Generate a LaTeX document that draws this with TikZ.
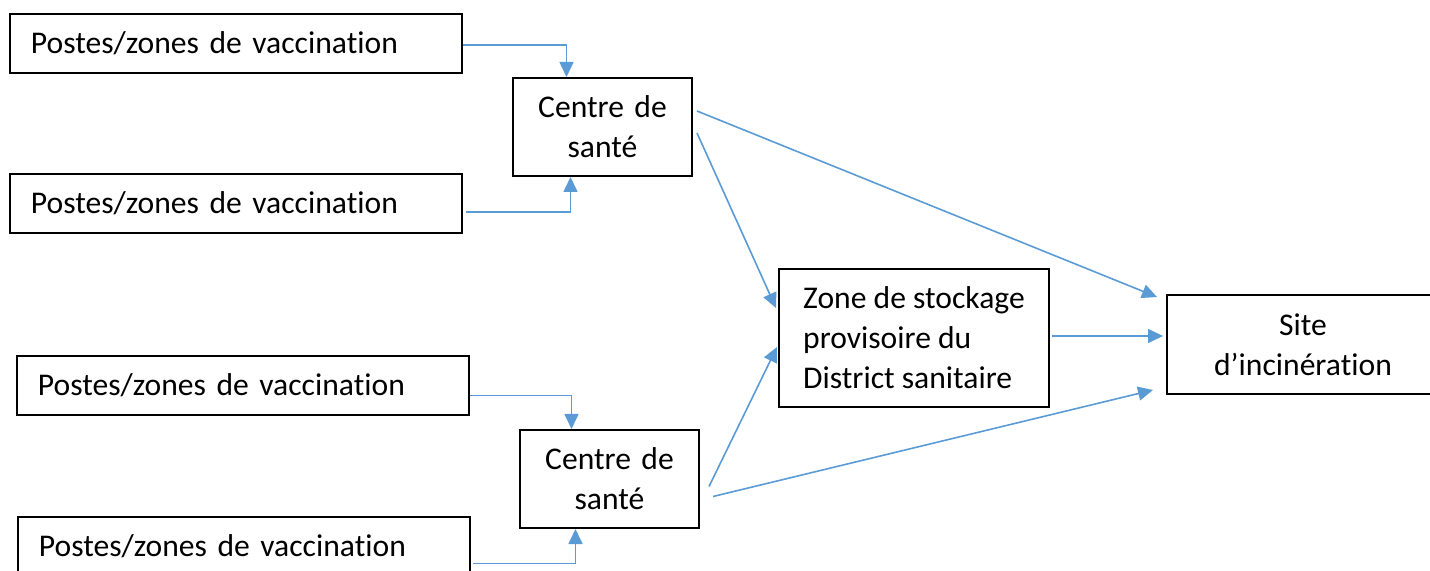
\documentclass[tikz,border=0pt]{standalone}
\usepackage{fontspec}
\setmainfont{Carlito}[Ligatures = NoCommon]
\usetikzlibrary{arrows.meta}
\definecolor{linkblue}{RGB}{91,155,213}

\begin{document}
\begin{tikzpicture}[x = 0.5pt, y = -0.5pt,
    every node/.style = {draw, line width = 1pt, anchor = north west, inner ysep = 0pt,
        font = \fontsize{15.8}{20}\selectfont},
    poste/.style = {inner xsep = 10.5pt, text width = 205pt, minimum height = 29.5pt, align = left},
    centre/.style = {inner xsep = 4pt, text width = 81.5pt, minimum height = 49pt, align = center},
    link/.style = {draw = linkblue, line width = 0.8pt, -{Triangle[length = 7.5pt, width = 7pt]}}]
    \useasboundingbox (0,0) rectangle (1430,571);
    \clip (0,0) rectangle (1430,571);
        % postes de vaccination
        \node[poste] (poste1) at (9,13) {Postes/zones de vaccination};
        \node[poste] (poste2) at (9,173) {Postes/zones de vaccination};
        \node[poste] (poste3) at (16,355) {Postes/zones de vaccination};
        \node[poste] (poste4) at (17,516) {Postes/zones de vaccination};
        % centres, stockage, incineration
        \node[centre] (centre1) at (512,77) {Centre de\\santé};
        \node[centre] (centre2) at (519,429) {Centre de\\santé};
        \node[inner xsep = 4pt, minimum width = 135pt, minimum height = 69pt, align = left]
            (zone) at (778,268) {Zone de stockage\\provisoire du\\District sanitaire};
        \node[inner xsep = 4pt, text width = 128pt, minimum height = 49.5pt, align = center]
            (site) at (1166,294) {Site\\d’incinération};

        \draw[link] ([yshift = -0.75pt]poste1.east) -| ([xshift = -18pt]centre1.north);
        \draw[link] ([shift = {(1.5pt,-4.25pt)}]poste2.east) -| ([xshift = -16pt]centre1.south);
        \draw[link] ([yshift = -5pt]poste3.east) -| ([xshift = -19pt]centre2.north);
        \draw[link] ([shift = {(1pt,-8.5pt)}]poste4.east) -| ([xshift = -17pt]centre2.south);

        \draw[link] ([shift = {(2pt,8pt)}]centre1.east) -- ([shift = {(-4.5pt,-1.5pt)}]site.north west);
        \draw[link] ([shift = {(2pt,-3pt)}]centre1.east) -- ([shift = {(-1pt,15pt)}]zone.west);
        \draw[link] ([shift = {(4.5pt,-3.75pt)}]centre2.east) -- ([shift = {(-0.5pt,-4.5pt)}]zone.west);
        \draw[link] ([shift = {(6.5pt,-8.75pt)}]centre2.east) -- ([shift = {(-6.5pt,2.5pt)}]site.south west);
        \draw[link] ([shift = {(1pt,1pt)}]zone.east) -- ([shift = {(-1.5pt,4.25pt)}]site.west);
\end{tikzpicture}
\end{document}
